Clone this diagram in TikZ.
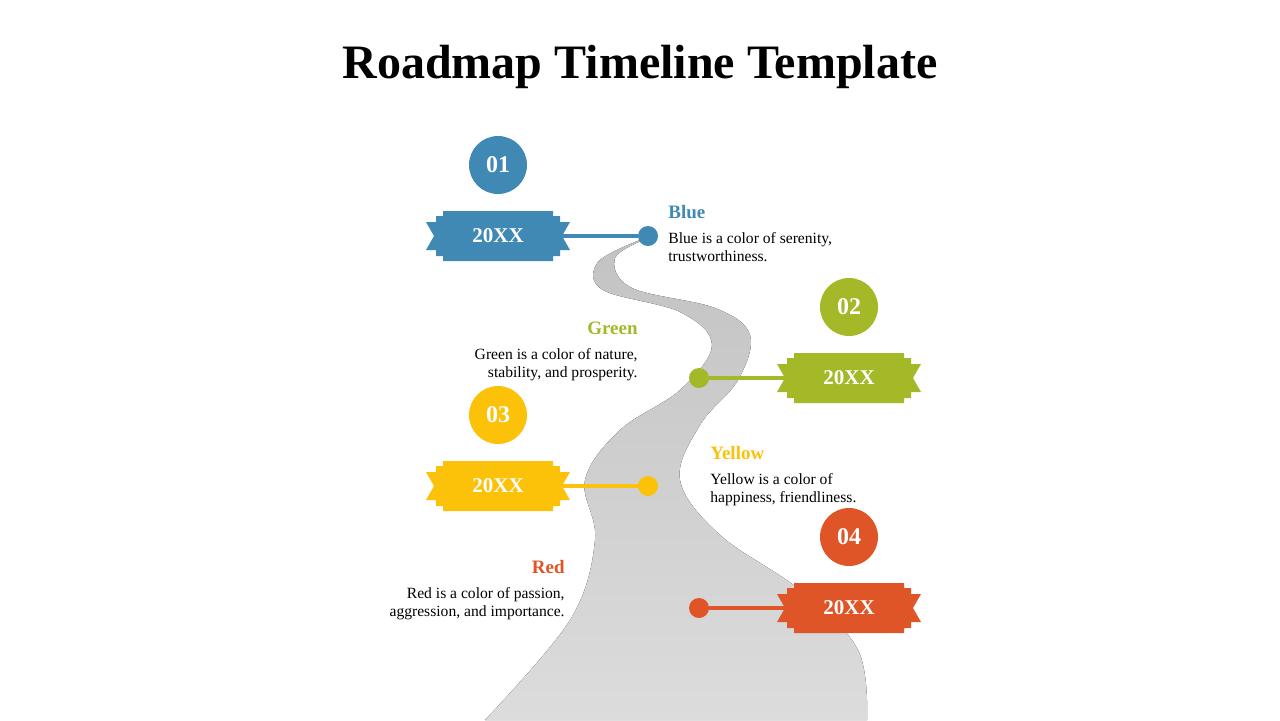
\documentclass[tikz,border=0pt]{standalone}
\usepackage{fontspec}
\setmainfont{Liberation Serif}
\definecolor{cblue}{HTML}{4189B5}
\definecolor{cgreen}{HTML}{A5B827}
\definecolor{cyellow}{HTML}{FCC20A}
\definecolor{cred}{HTML}{E05528}
\definecolor{road}{HTML}{CDCDCD}
\tikzset{
  num/.style={circle,fill=#1,minimum size=29pt,inner sep=0pt,text=white,font=\bfseries\fontsize{12}{12}\selectfont},
  dot/.style={circle,fill=#1,minimum size=10pt,inner sep=0pt},
  tag/.style={minimum width=56pt,minimum height=25pt,inner sep=0pt,text=white,font=\bfseries\fontsize{10.5}{10.5}\selectfont},
  head/.style={text=#1,font=\bfseries\fontsize{9.5}{9.5}\selectfont,inner sep=0pt},
  body/.style={font=\fontsize{7.8}{9}\selectfont,inner sep=0pt,align=#1},
}
\newcommand\ribbon[2]{%
\fill[#2](#1)++(-55,-25)--++(110,0)--++(0,5)--++(7,0)--++(0,6)--++(10,0)--++(-8,14)--++(8,14)--++(-10,0)--++(0,6)--++(-7,0)--++(0,5)--++(-110,0)--++(0,-5)--++(-7,0)--++(0,-6)--++(-10,0)--++(8,-14)--++(-8,-14)--++(10,0)--++(0,-6)--++(7,0)--cycle;}
\begin{document}
\begin{tikzpicture}[x=0.5pt,y=-0.5pt]
\useasboundingbox (0,0) rectangle (1280,720);
% road
\fill[top color=road!95!black,bottom color=road!70!white,shading angle=0]
 plot[smooth,tension=0.6] coordinates {(648,238)(615,258)(632,288)(715,308)(750,335)(738,380)(700,425)(680,480)(720,535)(800,590)(858,650)(867,720)}
 -- plot[smooth,tension=0.6] coordinates {(485,720)(570,620)(595,540)(585,480)(620,430)(680,390)(712,345)(680,312)(603,290)(598,262)(640,240)};
% title
\node (title) at (640,67) {\bfseries\fontsize{24}{24}\selectfont Roadmap Timeline Template};
% milestones
\foreach \i/\nx/\dx/\ny/\col in {1/498/648/236/cblue,2/849/699/378/cgreen,3/498/648/486/cyellow,4/849/699/608/cred}{
  \node[num=\col] (n\i) at (\nx,\ny-71) {0\i};
  \ribbon{\nx,\ny}{\col}
  \node[tag] (b\i) at (\nx,\ny) {20XX};
  \node[dot=\col] (d\i) at (\dx,\ny) {};
  \draw[\col,line width=2] (b\i) -- (d\i);
}
% texts
\node[head=cblue,anchor=west] (h1) at (668,212) {Blue};
\node[body=left,anchor=north west] (t1) at (668,232) {Blue is a color of serenity,\\trustworthiness.};
\node[head=cgreen,anchor=east] (h2) at (638,328) {Green};
\node[body=right,anchor=north east] (t2) at (638,348) {Green is a color of nature,\\stability, and prosperity.};
\node[head=cyellow,anchor=west] (h3) at (710,453) {Yellow};
\node[body=left,anchor=north west] (t3) at (710,473) {Yellow is a color of\\happiness, friendliness.};
\node[head=cred,anchor=east] (h4) at (565,567) {Red};
\node[body=right,anchor=north east] (t4) at (565,587) {Red is a color of passion,\\aggression, and importance.};
\end{tikzpicture}
\end{document}
